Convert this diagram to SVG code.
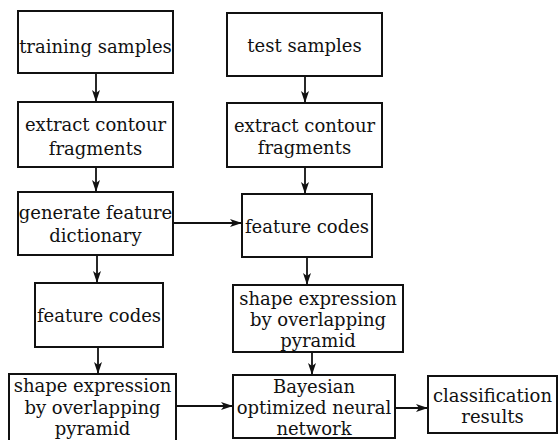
<svg xmlns="http://www.w3.org/2000/svg" width="558" height="440" viewBox="0 0 558 440">
<defs>
<marker id="ah" viewBox="0 0 12 8" refX="12" refY="4" markerWidth="12" markerHeight="8" markerUnits="userSpaceOnUse" orient="auto">
<path d="M0,0 L12,4 L0,8 L3,4 Z" fill="#111"/>
</marker>
<style>
rect{fill:#fff;stroke:#111;stroke-width:2}
text{font-family:'DejaVu Serif','Liberation Serif',serif;font-size:18px;fill:#111;text-anchor:middle}
.c line{stroke:#111;stroke-width:1.8;marker-end:url(#ah)}
</style>
</defs>
<rect x="0" y="0" width="558" height="440" style="stroke:none"/>
<g id="n1"><rect x="18" y="11" width="155" height="62"/><text x="95.5" y="53">training samples</text></g>
<g id="n2"><rect x="18" y="102" width="155" height="65"/><text x="95.5" y="131">extract contour</text><text x="95.5" y="155">fragments</text></g>
<g id="n3"><rect x="18" y="192" width="155" height="63"/><text x="95.5" y="219">generate feature</text><text x="95.5" y="242">dictionary</text></g>
<g id="n4"><rect x="35" y="283" width="128" height="64"/><text x="99" y="322">feature codes</text></g>
<g id="n5"><rect x="9" y="374" width="167" height="67"/><text x="92.5" y="392">shape expression</text><text x="92.5" y="414">by overlapping</text><text x="92.5" y="435">pyramid</text></g>
<g id="n6"><rect x="227" y="13" width="155" height="63"/><text x="304.5" y="52">test samples</text></g>
<g id="n7"><rect x="227" y="103" width="155" height="64"/><text x="304.5" y="132">extract contour</text><text x="304.5" y="154">fragments</text></g>
<g id="n8"><rect x="242" y="194" width="130" height="63"/><text x="307" y="233">feature codes</text></g>
<g id="n9"><rect x="233" y="285" width="170" height="67"/><text x="318" y="305">shape expression</text><text x="318" y="326">by overlapping</text><text x="318" y="347">pyramid</text></g>
<g id="n10"><rect x="233" y="375" width="162" height="63"/><text x="314" y="393">Bayesian</text><text x="314" y="414">optimized neural</text><text x="314" y="435">network</text></g>
<g id="n11"><rect x="428" y="376" width="129" height="57"/><text x="492.5" y="402">classification</text><text x="492.5" y="423">results</text></g>
<g class="c" id="connectors">
<line x1="96" y1="73" x2="96" y2="102"/>
<line x1="96" y1="167" x2="96" y2="192"/>
<line x1="97" y1="255" x2="97" y2="283"/>
<line x1="98" y1="347" x2="98" y2="374"/>
<line x1="305" y1="76" x2="305" y2="103"/>
<line x1="305" y1="167" x2="305" y2="194"/>
<line x1="173" y1="223" x2="242" y2="223"/>
<line x1="307" y1="257" x2="307" y2="285"/>
<line x1="312" y1="352" x2="312" y2="375"/>
<line x1="176" y1="406" x2="233" y2="406"/>
<line x1="395" y1="408" x2="428" y2="408"/>
</g>
</svg>
